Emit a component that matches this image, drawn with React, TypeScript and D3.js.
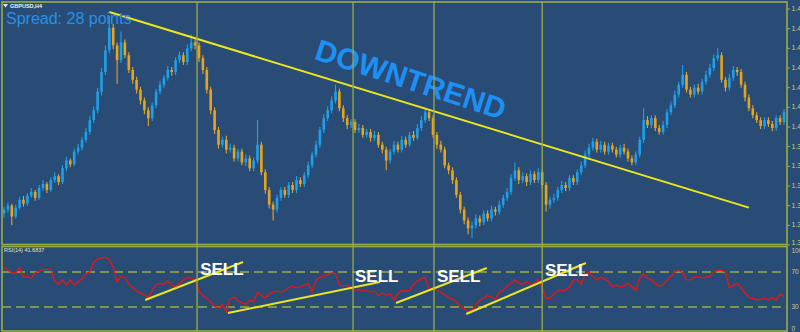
import React from 'react';
import * as d3 from 'd3';

// GBPUSD H4 bars (prices), open of each bar = previous close
const firstOpen = 1.3912;
const closes = [
  1.3916, 1.392, 1.3909, 1.3918, 1.3926, 1.3922, 1.393, 1.3934, 1.3928, 1.3938,
  1.3942, 1.3936, 1.3946, 1.395, 1.3944, 1.3958, 1.3966, 1.3962, 1.3975, 1.3979,
  1.3987, 1.3995, 1.4007, 1.4017, 1.4036, 1.4056, 1.4078, 1.4101, 1.4083, 1.4068,
  1.4086, 1.4073, 1.4058, 1.4048, 1.4038, 1.4027, 1.4017, 1.4009, 1.4022, 1.4036,
  1.4043, 1.405, 1.4058, 1.4056, 1.4068, 1.4073, 1.4066, 1.408, 1.4086, 1.4083,
  1.407, 1.4058, 1.4038, 1.4017, 1.3997, 1.3982, 1.3987, 1.3977, 1.3979, 1.3968,
  1.3975, 1.3964, 1.3968, 1.3958, 1.3966, 1.3982, 1.3954, 1.3936, 1.3921, 1.3916,
  1.3928, 1.3936, 1.3931, 1.3941, 1.3936, 1.3946, 1.3942, 1.3951, 1.3961, 1.3972,
  1.3982, 1.3997, 1.4009, 1.4017, 1.4027, 1.4036, 1.4019, 1.4009, 1.4002, 1.4005,
  1.3997, 1.3999, 1.3992, 1.3995, 1.3989, 1.3992, 1.3982, 1.3977, 1.3966, 1.3975,
  1.3982, 1.3977, 1.3987, 1.3982, 1.3992, 1.3989, 1.3999, 1.4007, 1.4015, 1.4009,
  1.3992, 1.3982, 1.3977, 1.3961, 1.3956, 1.3946, 1.3931, 1.3916, 1.3905, 1.3897,
  1.39, 1.3907, 1.3903, 1.3912, 1.3907, 1.3916, 1.3914, 1.3921, 1.3928, 1.3934,
  1.3948, 1.3956, 1.3946, 1.395, 1.3944, 1.3952, 1.3946, 1.3954, 1.3941, 1.3921,
  1.3926, 1.3928, 1.3936, 1.3941, 1.3938, 1.3948, 1.3944, 1.3954, 1.3961, 1.3972,
  1.3979, 1.3985, 1.3977, 1.3982, 1.3975, 1.3981, 1.3977, 1.3972, 1.3979, 1.3975,
  1.3968, 1.3964, 1.3972, 1.3987, 1.4007, 1.4002, 1.4009, 1.3999, 1.3995, 1.4002,
  1.4015, 1.4022, 1.4033, 1.4043, 1.4053, 1.4038, 1.4033, 1.404, 1.4036, 1.4046,
  1.4053, 1.406, 1.407, 1.4073, 1.4048, 1.404, 1.405, 1.4058, 1.4056, 1.4043,
  1.403, 1.4019, 1.4012, 1.4007, 1.4001, 1.4007, 1.4003, 1.3999, 1.4009, 1.4005,
  1.4015,
];
const highs = [
  1.3919, 1.3923, 1.3922, 1.3921, 1.3929, 1.393, 1.3933, 1.3938, 1.3936, 1.3941,
  1.3946, 1.3944, 1.3949, 1.3954, 1.3952, 1.3961, 1.397, 1.3968, 1.3978, 1.3983,
  1.399, 1.3999, 1.4011, 1.4021, 1.404, 1.406, 1.4083, 1.4113, 1.4105, 1.4086,
  1.4097, 1.4089, 1.4076, 1.4061, 1.4051, 1.4041, 1.403, 1.402, 1.4025, 1.4039,
  1.4047, 1.4053, 1.4062, 1.4061, 1.4071, 1.4077, 1.4076, 1.4084, 1.4094, 1.4089,
  1.4086, 1.4073, 1.4061, 1.4041, 1.402, 1.4, 1.399, 1.3991, 1.3983, 1.3982,
  1.3978, 1.3978, 1.3972, 1.3971, 1.3969, 1.4007, 1.3985, 1.3957, 1.3939, 1.3924,
  1.3931, 1.3939, 1.3939, 1.3944, 1.3944, 1.395, 1.3949, 1.3954, 1.3965, 1.3975,
  1.3986, 1.4, 1.4013, 1.4021, 1.4031, 1.4043, 1.4039, 1.4022, 1.4012, 1.4008,
  1.4008, 1.4003, 1.4002, 1.3998, 1.3998, 1.3996, 1.3995, 1.3985, 1.398, 1.3978,
  1.3986, 1.3985, 1.3991, 1.399, 1.3995, 1.3996, 1.4003, 1.4011, 1.4019, 1.4017,
  1.4012, 1.3995, 1.3986, 1.398, 1.3964, 1.3959, 1.3949, 1.3934, 1.3919, 1.3908,
  1.3904, 1.3911, 1.391, 1.3915, 1.3915, 1.392, 1.3919, 1.3925, 1.3931, 1.3938,
  1.3952, 1.3964, 1.3959, 1.3954, 1.3953, 1.3956, 1.3955, 1.3958, 1.3957, 1.3944,
  1.3929, 1.3932, 1.3939, 1.3945, 1.3944, 1.3951, 1.3951, 1.3957, 1.3965, 1.3976,
  1.3983, 1.3989, 1.3988, 1.3986, 1.3985, 1.3984, 1.3984, 1.398, 1.3982, 1.3983,
  1.3978, 1.3971, 1.3975, 1.399, 1.4019, 1.4011, 1.4012, 1.4012, 1.4002, 1.4006,
  1.4018, 1.4026, 1.4037, 1.4046, 1.4063, 1.4056, 1.4041, 1.4043, 1.4044, 1.4049,
  1.4057, 1.4064, 1.4074, 1.408, 1.4076, 1.4051, 1.4054, 1.4062, 1.4061, 1.4059,
  1.4046, 1.4033, 1.4022, 1.4015, 1.401, 1.401, 1.401, 1.4006, 1.4012, 1.4012,
  1.4018,
];
const lows = [
  1.3908, 1.3913, 1.39, 1.3907, 1.3916, 1.3919, 1.392, 1.3928, 1.3925, 1.3926,
  1.3935, 1.3933, 1.3934, 1.3943, 1.3941, 1.3942, 1.3955, 1.3959, 1.396, 1.3972,
  1.3976, 1.3984, 1.3992, 1.4004, 1.4014, 1.4032, 1.4053, 1.4075, 1.4079, 1.4044,
  1.4065, 1.407, 1.4055, 1.4044, 1.4034, 1.4023, 1.4013, 1.4001, 1.4006, 1.4019,
  1.4033, 1.404, 1.4047, 1.4052, 1.4053, 1.4065, 1.4063, 1.4063, 1.4077, 1.4079,
  1.4066, 1.4054, 1.4034, 1.4013, 1.3993, 1.3978, 1.3979, 1.3973, 1.3974, 1.3965,
  1.3965, 1.3961, 1.396, 1.3955, 1.3955, 1.3963, 1.3951, 1.3932, 1.3917, 1.3905,
  1.3913, 1.3925, 1.3928, 1.3928, 1.3933, 1.3933, 1.3939, 1.3939, 1.3948, 1.3958,
  1.3969, 1.3979, 1.3994, 1.4006, 1.4014, 1.4024, 1.4016, 1.4005, 1.3998, 1.3999,
  1.3994, 1.3994, 1.3989, 1.3989, 1.3985, 1.3986, 1.3979, 1.3973, 1.3956, 1.3963,
  1.3972, 1.3974, 1.3974, 1.3979, 1.398, 1.3986, 1.3987, 1.3996, 1.4004, 1.4006,
  1.3989, 1.3978, 1.3974, 1.3958, 1.3952, 1.3942, 1.3928, 1.3912, 1.3901, 1.3891,
  1.3887, 1.3897, 1.3899, 1.39, 1.3904, 1.3904, 1.391, 1.3911, 1.3918, 1.3925,
  1.3931, 1.3945, 1.3942, 1.3943, 1.394, 1.3941, 1.3943, 1.3943, 1.3937, 1.3914,
  1.3917, 1.3923, 1.3925, 1.3933, 1.3935, 1.3935, 1.3941, 1.3941, 1.3951, 1.3958,
  1.3969, 1.3976, 1.3974, 1.3974, 1.3972, 1.3972, 1.3974, 1.3969, 1.3969, 1.3972,
  1.3965, 1.3961, 1.3961, 1.3969, 1.3984, 1.3999, 1.3999, 1.3996, 1.3992, 1.3992,
  1.3999, 1.4012, 1.4019, 1.403, 1.404, 1.4035, 1.403, 1.403, 1.4033, 1.4033,
  1.4043, 1.405, 1.4057, 1.4067, 1.4045, 1.4036, 1.4037, 1.4047, 1.4052, 1.404,
  1.4026, 1.4016, 1.4009, 1.4004, 1.3998, 1.3998, 1.4, 1.3996, 1.3996, 1.4002,
  1.4002,
];

// RSI(14), one value per bar
const rsiValues = [
  75.7, 72, 69, 69, 75, 64, 65, 63, 69, 71,
  73, 73, 74, 59, 56, 61, 55, 61, 55, 59,
  62, 68, 70, 81, 85, 86, 87, 84, 75, 59,
  65, 64, 56, 52, 48, 46, 44, 41, 49, 55,
  57, 56, 60, 55, 53, 57, 61, 64, 63, 61,
  48, 43, 40, 36, 31, 29, 33, 25, 40, 41,
  37, 35, 33, 38, 36, 47, 43, 40, 45, 47,
  48, 47, 49, 52, 54, 52, 53, 55, 57, 47,
  61, 64, 65, 67, 69, 68, 55, 54, 55, 52,
  49, 50, 48, 49, 47, 48, 43, 46, 43, 45,
  38, 45, 49, 48, 49, 56, 60, 62, 64, 50,
  52, 49, 47, 44, 41, 39, 36, 31, 28, 24,
  27, 32, 38, 40, 43, 41, 39, 47, 49, 54,
  57, 61, 57, 56, 59, 56, 57, 61, 52, 40,
  40, 45, 49, 49, 49, 53, 61, 61, 56, 67,
  70, 65, 61, 64, 62, 59, 53, 55, 53, 54,
  57, 53, 49, 63, 68, 63, 61, 56, 54, 55,
  61, 65, 70, 72, 69, 61, 61, 64, 65, 63,
  64, 65, 70, 72, 72, 70, 52, 55, 57, 52,
  46, 41, 40, 38, 39, 40, 38, 41, 38, 45,
  41.6837,
];

const priceTicks = [
  1.388, 1.39, 1.392, 1.394, 1.396, 1.398, 1.4, 1.402, 1.404, 1.406, 1.408, 1.41, 1.412,
];
const rsiLevels = [70, 30];
const rsiTicks = [100, 70, 30, 0];

// user drawn objects (bar index, value)
const separators = [49.5, 89.5, 110.25, 138];
const trendLine = [
  [27, 1.4117],
  [191, 1.3918],
];
const rsiTrendLines = [
  [36.2, 38, 61.3, 81.4],
  [57.4, 23.1, 96.4, 58.6],
  [100.5, 34.6, 123.8, 74.6],
  [118.5, 22, 149.2, 80.3],
];
const sellMarks = [
  [50.3, 66.6],
  [90, 58.6],
  [111, 58.6],
  [138.7, 65.4],
];
const trendLabel = { bar: 104.1, price: 1.4046, text: 'DOWNTREND' };

const W = 800;
const H = 332;
const BG = '#284c75';
const FRAME = '#9cab48';
const BULL = '#1fa0ea';
const BEAR = '#e9a31c';
const YELLOW = '#ece61e';
const AXIS_TEXT = '#d2cc7a';
const FONT = '"Liberation Sans", Arial, sans-serif';

export default function App() {
  const x = d3.scaleLinear().domain([0, closes.length - 1]).range([4, 784]);
  const y = d3.scaleLinear().domain([1.388, 1.412]).range([245, 9]);
  const yr = d3.scaleLinear().domain([0, 100]).range([333.25, 245.75]);

  const opens = closes.map((_, i) => (i === 0 ? firstOpen : closes[i - 1]));
  const rsiLine = d3
    .line<number>()
    .x((_, i) => x(i))
    .y((v) => yr(v));

  const bodyW = 2.6;

  return (
    <svg
      width={W}
      height={H}
      style={{ position: 'absolute', left: 0, top: 0, display: 'block' }}
    >
      <defs>
        <clipPath id="pricePane">
          <rect x={2} y={2} width={785} height={242} />
        </clipPath>
        <clipPath id="rsiPane">
          <rect x={2} y={246} width={785} height={86} />
        </clipPath>
      </defs>
      <rect x={0} y={0} width={W} height={H} fill={BG} />

      {/* candles */}
      <g clipPath="url(#pricePane)">
        {closes.map((c, i) => {
          const o = opens[i];
          const col = c >= o ? BULL : BEAR;
          const top = y(Math.max(o, c));
          const bot = y(Math.min(o, c));
          return (
            <g key={i}>
              <line
                x1={x(i)}
                x2={x(i)}
                y1={y(highs[i])}
                y2={y(lows[i])}
                stroke={col}
                strokeWidth={1.1}
              />
              <rect
                x={x(i) - bodyW / 2}
                y={top}
                width={bodyW}
                height={Math.max(1, bot - top)}
                fill={col}
              />
            </g>
          );
        })}
        <line
          x1={x(trendLine[0][0])}
          y1={y(trendLine[0][1])}
          x2={x(trendLine[1][0])}
          y2={y(trendLine[1][1])}
          stroke={YELLOW}
          strokeWidth={2}
        />
        <text
          transform={`translate(${x(trendLabel.bar)},${y(trendLabel.price)}) rotate(18)`}
          textAnchor="middle"
          dominantBaseline="middle"
          fontFamily={FONT}
          fontWeight="bold"
          fontSize={30}
          fill="#1e90f5"
        >
          {trendLabel.text}
        </text>
      </g>

      {/* RSI window */}
      <g clipPath="url(#rsiPane)">
        {rsiLevels.map((lv) => (
          <line
            key={lv}
            x1={2}
            x2={787}
            y1={yr(lv)}
            y2={yr(lv)}
            stroke={FRAME}
            strokeWidth={1.5}
            strokeDasharray="9 5"
          />
        ))}
        <path d={rsiLine(rsiValues) || ''} fill="none" stroke="#e01818" strokeWidth={1.4} />
        {rsiTrendLines.map((l, k) => (
          <line
            key={k}
            x1={x(l[0])}
            y1={yr(l[1])}
            x2={x(l[2])}
            y2={yr(l[3])}
            stroke={YELLOW}
            strokeWidth={2}
          />
        ))}
        {sellMarks.map((s, k) => (
          <text
            key={k}
            x={x(s[0])}
            y={yr(s[1])}
            fontFamily={FONT}
            fontWeight="bold"
            fontSize={17}
            fill="#ffffff"
          >
            SELL
          </text>
        ))}
      </g>

      {/* period separators */}
      {separators.map((s) => (
        <line
          key={s}
          x1={x(s)}
          x2={x(s)}
          y1={2}
          y2={H}
          stroke={FRAME}
          strokeWidth={1.3}
        />
      ))}

      {/* frames */}
      <rect x={2} y={2} width={785} height={242.5} fill="none" stroke={FRAME} strokeWidth={1.6} />
      <rect x={2} y={246.5} width={785} height={84.5} fill="none" stroke={FRAME} strokeWidth={1.6} />

      {/* price scale */}
      {priceTicks.map((p) => (
        <g key={p}>
          <line x1={787} x2={790} y1={y(p)} y2={y(p)} stroke={FRAME} strokeWidth={1} />
          <text
            x={791.5}
            y={p === priceTicks[0] ? y(p) - 2 : y(p)}
            dominantBaseline="middle"
            fontFamily={FONT}
            fontSize={7}
            fill={AXIS_TEXT}
          >
            {d3.format('.4f')(p)}
          </text>
        </g>
      ))}

      {/* RSI scale */}
      {rsiTicks.map((v) => (
        <text
          key={v}
          x={791.5}
          y={v === 100 ? yr(v) + 2 : v === 0 ? yr(v) - 2 : yr(v)}
          dominantBaseline={v === 100 ? 'hanging' : v === 0 ? 'auto' : 'middle'}
          fontFamily={FONT}
          fontSize={6.5}
          fill={AXIS_TEXT}
        >
          {v}
        </text>
      ))}

      {/* headers */}
      <path d="M3,4 L8,4 L5.5,7.5 Z" fill="#e8e8e8" />
      <text x={10} y={8} fontFamily={FONT} fontWeight="bold" fontSize={5.5} fill="#f0f0f0">
        GBPUSD,H4
      </text>
      <text x={6} y={24} fontFamily={FONT} fontSize={16} fill="#2a8fe8">
        Spread: 28 points
      </text>
      <text x={4} y={252} fontFamily={FONT} fontSize={5.5} fill="#e4e2b4">
        RSI(14) 41.6837
      </text>
    </svg>
  );
}
